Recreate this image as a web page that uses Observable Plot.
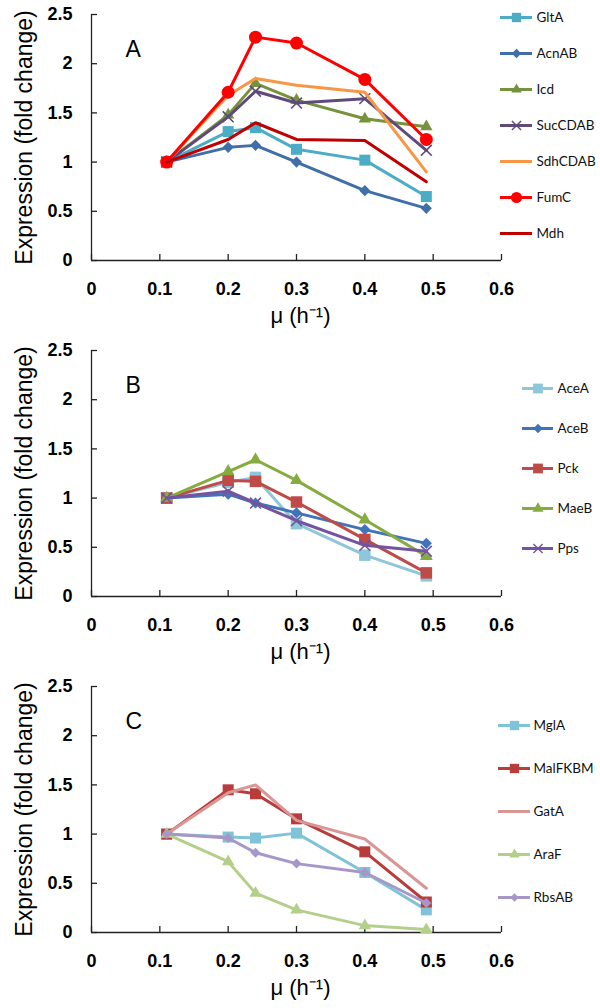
<!DOCTYPE html>
<html><head><meta charset="utf-8">
<script src="https://cdn.jsdelivr.net/npm/d3@7"></script>
<script src="https://cdn.jsdelivr.net/npm/@observablehq/plot@0.6"></script>
<style>
body{margin:0;background:#fff;}
.panel{position:relative;width:600px;height:336px;}
.panel svg{display:block;}
.legend{position:absolute;left:498px;top:0;}
</style></head><body><div id="root"></div>
<script>
// shared axes
const mu = [0.11, 0.2, 0.24, 0.3, 0.4, 0.49];
const xTicks = [0, 0.1, 0.2, 0.3, 0.4, 0.5, 0.6];
const xTickLabels = ["0", "0.1", "0.2", "0.3", "0.4", "0.5", "0.6"];
const yTicks = [0, 0.5, 1, 1.5, 2, 2.5];
const yTickLabels = ["0", "0.5", "1", "1.5", "2", "2.5"];
const yTitle = "Expression (fold change)";
const xTitle = "μ (h⁻¹)";

// Panel A
const namesA = ["GltA", "AcnAB", "Icd", "SucCDAB", "SdhCDAB", "FumC", "Mdh"];
const GltA    = [1.00, 1.31, 1.35, 1.13, 1.02, 0.65];
const AcnAB   = [1.00, 1.15, 1.17, 1.00, 0.71, 0.53];
const Icd     = [1.00, 1.48, 1.80, 1.63, 1.44, 1.36];
const SucCDAB = [1.00, 1.46, 1.72, 1.60, 1.645, 1.12];
const SdhCDAB = [1.00, 1.68, 1.85, 1.78, 1.71, 0.90];
const FumC    = [1.00, 1.71, 2.27, 2.21, 1.84, 1.23];
const Mdh     = [1.00, 1.23, 1.40, 1.23, 1.22, 0.80];
const valuesA = [GltA, AcnAB, Icd, SucCDAB, SdhCDAB, FumC, Mdh];

// Panel B
const namesB = ["AceA", "AceB", "Pck", "MaeB", "Pps"];
const AceA = [1.00, 1.16, 1.21, 0.74, 0.42, 0.21];
const AceB = [1.00, 1.04, 0.95, 0.85, 0.68, 0.54];
const Pck  = [1.00, 1.18, 1.17, 0.96, 0.58, 0.24];
const MaeB = [1.00, 1.27, 1.39, 1.18, 0.78, 0.41];
const Pps  = [1.00, 1.07, 0.95, 0.77, 0.52, 0.46];
const valuesB = [AceA, AceB, Pck, MaeB, Pps];

// Panel C
const namesC = ["MglA", "MalFKBM", "GatA", "AraF", "RbsAB"];
const MglA    = [1.00, 0.97, 0.96, 1.01, 0.61, 0.23];
const MalFKBM = [1.00, 1.45, 1.41, 1.155, 0.82, 0.31];
const GatA    = [1.00, 1.42, 1.50, 1.14, 0.95, 0.45];
const AraF    = [1.00, 0.72, 0.40, 0.23, 0.07, 0.03];
const RbsAB   = [1.00, 0.96, 0.81, 0.70, 0.61, 0.30];
const valuesC = [MglA, MalFKBM, GatA, AraF, RbsAB];

// styles (kept apart from the data)
const stylesA = [
  {color: "#4BACC6", symbol: "square", r: 6.2},
  {color: "#3F6EA8", symbol: "diamond2", r: 5},
  {color: "#76923C", symbol: "triangle", r: 4.6},
  {color: "#604A7B", symbol: "times", r: 5},
  {color: "#F79646", symbol: null},
  {color: "#FF0000", symbol: "circle", r: 6.5},
  {color: "#C00000", symbol: null}
];
const stylesB = [
  {color: "#8EC6DB", symbol: "square", r: 6.5},
  {color: "#3F75B8", symbol: "diamond2", r: 5},
  {color: "#BE4B48", symbol: "square", r: 6.5},
  {color: "#86AC41", symbol: "triangle", r: 4.8},
  {color: "#7453A0", symbol: "times", r: 5}
];
const stylesC = [
  {color: "#7FC3D9", symbol: "square", r: 6.2},
  {color: "#B83C3A", symbol: "square", r: 6.2},
  {color: "#DA9694", symbol: null},
  {color: "#B3CF8A", symbol: "triangle", r: 4.6},
  {color: "#A797C8", symbol: "diamond2", r: 4.5}
];

const font = "'Liberation Sans', Arial, sans-serif";
const legendFont = "Lato, 'Open Sans', sans-serif";

function seriesMarks(names, values, styles) {
  const marks = [];
  names.forEach((n, k) => {
    const data = mu.map((x, i) => ({x, y: values[k][i]}));
    const s = styles[k];
    marks.push(Plot.line(data, {x: "x", y: "y", stroke: s.color, strokeWidth: 3}));
    if (s.symbol) {
      const isStroke = s.symbol === "times";
      marks.push(Plot.dot(data, {x: "x", y: "y", symbol: s.symbol, r: s.r,
        fill: isStroke ? "none" : s.color, stroke: isStroke ? s.color : "none", strokeWidth: isStroke ? 1.6 : 0}));
    }
  });
  return marks;
}

function panel(letter, names, values, styles) {
  return Plot.plot({
    width: 600, height: 336,
    marginLeft: 91, marginRight: 99, marginTop: 14, marginBottom: 76,
    style: {fontFamily: font, background: "white", color: "black", overflow: "visible"},
    x: {domain: [0, 0.6]},
    y: {domain: [0, 2.5]},
    marks: [
      Plot.axisX(xTicks, {tickSize: -6, tickPadding: 28, stroke: "#222", strokeWidth: 1.3,
        tickFormat: d => xTickLabels[xTicks.indexOf(d)], fontSize: 18, fontWeight: "bold", fill: "black", label: null}),
      Plot.axisY(yTicks, {tickSize: -6, tickPadding: 25, stroke: "#222", strokeWidth: 1.3,
        tickFormat: d => yTickLabels[yTicks.indexOf(d)], fontSize: 18, fontWeight: "bold", fill: "black", label: null}),
      Plot.ruleY([0], {stroke: "#222", strokeWidth: 1.3}),
      Plot.ruleX([0], {stroke: "#222", strokeWidth: 1.3}),
      Plot.text([yTitle], {text: d => d, frameAnchor: "left", textAnchor: "middle", dx: -67, rotate: -90, fontSize: 23, fill: "black"}),
      Plot.text([xTitle], {text: d => d, frameAnchor: "bottom", textAnchor: "middle", dx: 4, dy: 62, fontSize: 22, fill: "black"}),
      Plot.text([letter], {text: d => d, frameAnchor: "top-left", dx: 34, dy: 26, textAnchor: "start", fontSize: 23, fill: "black"}),
      ...seriesMarks(names, values, styles)
    ]
  });
}

function legend(names, styles, yRange, lx1, lx2, tx) {
  const marks = [];
  names.forEach((n, k) => {
    const s = styles[k];
    marks.push(Plot.ruleY([n], {y: d => d, x1: lx1, x2: lx2, stroke: s.color, strokeWidth: 3}));
    if (s.symbol) {
      const isStroke = s.symbol === "times";
      marks.push(Plot.dot([n], {y: d => d, x: (lx1 + lx2) / 2, symbol: s.symbol, r: s.r * 0.85,
        fill: isStroke ? "none" : s.color, stroke: isStroke ? s.color : "none", strokeWidth: isStroke ? 1.4 : 0}));
    }
  });
  marks.push(Plot.text(names, {y: d => d, x: tx, text: d => d, textAnchor: "start", fontSize: 13.5, fontFamily: legendFont, fill: "#111"}));
  return Plot.plot({
    width: 102, height: 336, margin: 0,
    style: {background: "transparent"},
    x: {type: "identity", axis: null},
    y: {type: "point", domain: names, range: yRange, padding: 0, axis: null},
    marks
  });
}

const root = document.getElementById("root");
const panels = [
  ["A", namesA, valuesA, stylesA, [15, 234], 2, 34, 38],
  ["B", namesB, valuesB, stylesB, [52, 212], 24, 55, 59],
  ["C", namesC, valuesC, stylesC, [53, 225], 0, 32, 35]
];
for (const [letter, names, values, styles, yr, lx1, lx2, tx] of panels) {
  const div = document.createElement("div");
  div.className = "panel";
  div.appendChild(panel(letter, names, values, styles));
  const lg = legend(names, styles, yr, lx1, lx2, tx);
  lg.classList.add("legend");
  div.appendChild(lg);
  root.appendChild(div);
}
</script>
</body></html>
